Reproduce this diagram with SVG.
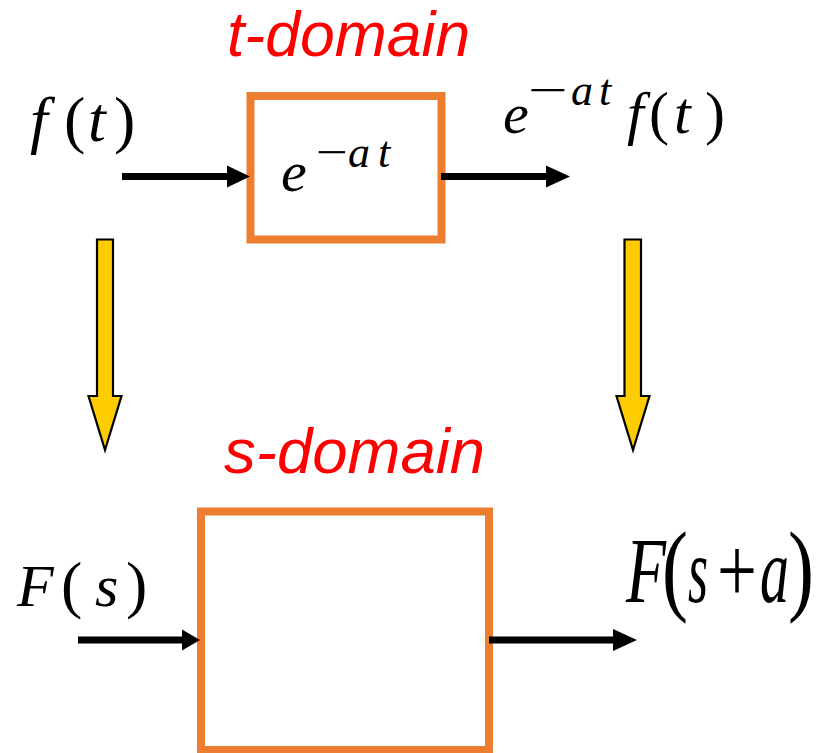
<svg xmlns="http://www.w3.org/2000/svg" width="819" height="753" viewBox="0 0 819 753">
<defs>
<style>
.box{fill:#ffffff;stroke:#ED7D31;stroke-width:8}
.wire{stroke:#000;stroke-width:7;fill:none}
.head{fill:#000}
.yarrow{fill:#FFCC00;stroke:#000;stroke-width:2.2;stroke-linejoin:miter}
.dom{font-family:"Liberation Sans",Arial,sans-serif;font-style:italic;fill:#FF0000}
.math{font-family:"Liberation Serif","Times New Roman",serif;font-style:italic;fill:#000}
.mr{font-family:"Liberation Serif","Times New Roman",serif;font-style:normal;fill:#000}
</style>
</defs>
<rect width="819" height="753" fill="#ffffff"/>

<g id="label-t-domain"><text class="dom" x="227" y="56" font-size="62.5">t-domain</text></g>
<g id="label-s-domain"><text class="dom" x="224" y="473" font-size="63.5">s-domain</text></g>

<g id="node-top">
<rect class="box" x="250.5" y="96" width="191" height="143.5" stroke-width="7.5"/>
<text class="math" x="281" y="191" font-size="58">e</text>
<text class="mr" x="316" y="167" font-size="44" textLength="32" lengthAdjust="spacingAndGlyphs">−</text>
<text class="math" x="348" y="167" font-size="44">a</text>
<text class="math" x="378" y="167" font-size="44">t</text>
</g>

<g id="node-bottom">
<rect class="box" x="201" y="511.5" width="288" height="238.5"/>
</g>

<g id="label-ft">
<text class="math" x="30" y="141" font-size="64">f</text>
<text class="mr" x="64" y="141" font-size="64">(</text>
<text class="math" x="88" y="141" font-size="64">t</text>
<text class="mr" x="114" y="141" font-size="64">)</text>
</g>

<g id="label-eatft">
<text class="math" x="503" y="133" font-size="58">e</text>
<text class="mr" x="528" y="105" font-size="44" textLength="40" lengthAdjust="spacingAndGlyphs">−</text>
<text class="math" x="571" y="105" font-size="44">a</text>
<text class="math" x="599" y="105" font-size="44">t</text>
<text class="math" x="627" y="133" font-size="60">f</text>
<text class="mr" x="649" y="133" font-size="60">(</text>
<text class="math" x="674" y="133" font-size="60">t</text>
<text class="mr" x="705" y="133" font-size="60">)</text>
</g>

<g id="label-Fs">
<text class="math" x="17" y="606" font-size="60">F</text>
<text class="mr" x="61" y="606" font-size="64">(</text>
<text class="math" x="95" y="606" font-size="60">s</text>
<text class="mr" x="126" y="606" font-size="64">)</text>
</g>

<g id="label-Fsa" transform="translate(0,602) scale(1,1.3)">
<text class="math" x="626" y="0" font-size="72" textLength="40" lengthAdjust="spacingAndGlyphs">F</text>
<text class="mr" x="662" y="0" font-size="78">(</text>
<text class="math" x="688" y="0" font-size="72" textLength="20" lengthAdjust="spacingAndGlyphs">s</text>
<text class="mr" x="717" y="0" font-size="72" textLength="40" lengthAdjust="spacingAndGlyphs">+</text>
<text class="math" x="760" y="0" font-size="72" textLength="29" lengthAdjust="spacingAndGlyphs">a</text>
<text class="mr" x="788" y="0" font-size="78">)</text>
</g>

<g id="connectors">
<line class="wire" x1="122" y1="176.5" x2="230" y2="176.5"/>
<polygon class="head" points="227,165.5 250,176.5 227,187.5"/>
<line class="wire" x1="441" y1="176.5" x2="548" y2="176.5"/>
<polygon class="head" points="546,165.5 570,176.5 546,187.5"/>
<line class="wire" x1="78" y1="640" x2="184" y2="640"/>
<polygon class="head" points="182,629.5 200,640 182,650.5"/>
<line class="wire" x1="489" y1="640" x2="615" y2="640"/>
<polygon class="head" points="613,629 637,640 613,651"/>
<polygon class="yarrow" points="97,239.5 113,239.5 113,396 121.5,396 105,450 88.5,396 97,396"/>
<polygon class="yarrow" points="624.5,239.5 641,239.5 641,396 649.5,396 633,450 616.5,396 624.5,396"/>
</g>
</svg>
